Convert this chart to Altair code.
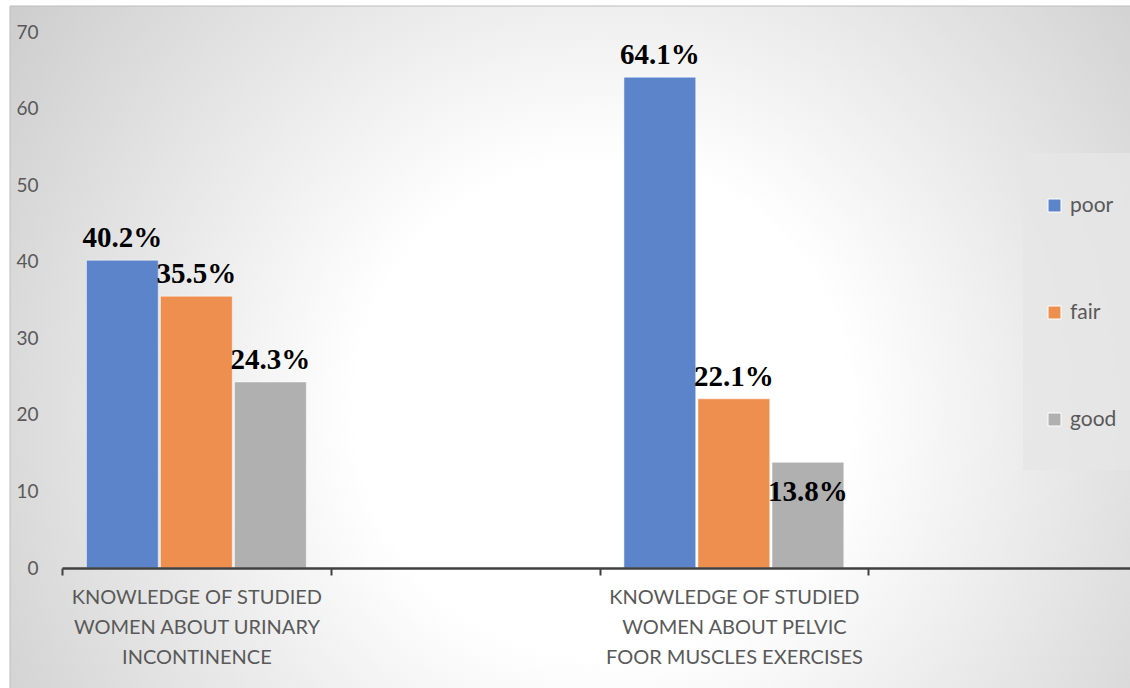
import altair as alt
import pandas as pd

# ---- data ----
categories = [
    "KNOWLEDGE OF STUDIED|WOMEN ABOUT URINARY|INCONTINENCE",
    " ",
    "KNOWLEDGE OF STUDIED|WOMEN ABOUT PELVIC|FOOR MUSCLES EXERCISES",
    "  ",
]
levels = ["poor", "fair", "good"]
urinary_values = [40.2, 35.5, 24.3]
pelvic_values = [64.1, 22.1, 13.8]
level_colors = ["#5B84CB", "#EE8F50", "#B0B0B0"]
y_tick_values = [0, 10, 20, 30, 40, 50, 60, 70]

rows = []
for lvl, v in zip(levels, urinary_values):
    rows.append({"cat": categories[0], "level": lvl, "value": v})
for lvl, v in zip(levels, pelvic_values):
    rows.append({"cat": categories[2], "level": lvl, "value": v})
df = pd.DataFrame(rows)
df["label"] = df["value"].map(lambda v: f"{v:.1f}%")

W, H = 1068, 536
X_RANGE = 1075
LABEL_FONT = "Lato"
GREY_TEXT = "#595959"

x_enc = alt.X(
    "cat:N",
    scale=alt.Scale(domain=categories, paddingInner=0, paddingOuter=0, range=[0, X_RANGE]),
    axis=alt.Axis(
        title=None,
        labelExpr="split(datum.label, '|')",
        labelAngle=0,
        labelLimit=0,
        labelFont=LABEL_FONT,
        labelFontSize=20,
        labelColor=GREY_TEXT,
        labelLineHeight=30,
        labelPadding=12,
        tickBand="extent",
        tickSize=7,
        tickWidth=2,
        tickColor="#404040",
        domainColor="#404040",
        domainWidth=2.5,
        grid=False,
        zindex=1,
    ),
)
xoff_enc = alt.XOffset(
    "level:N",
    scale=alt.Scale(domain=levels, paddingInner=0.03, paddingOuter=0.33),
)
y_enc = alt.Y(
    "value:Q",
    scale=alt.Scale(domain=[0, 70], nice=False, zero=True),
    axis=alt.Axis(
        title=None,
        values=y_tick_values,
        domain=False,
        ticks=False,
        grid=False,
        labelFont=LABEL_FONT,
        labelFontSize=19,
        labelColor=GREY_TEXT,
        labelPadding=24,
        zindex=1,
    ),
)
color_enc = alt.Color(
    "level:N",
    scale=alt.Scale(domain=levels, range=level_colors),
    legend=alt.Legend(
        title=None,
        orient="none",
        legendX=982,
        legendY=163,
        symbolType="square",
        symbolSize=169,
        symbolStrokeColor="#ffffff",
        symbolStrokeWidth=1,
        labelFont=LABEL_FONT,
        labelFontSize=21,
        labelColor=GREY_TEXT,
        labelOffset=5,
        rowPadding=85,
        padding=0,
    ),
)

one = pd.DataFrame({"k": [0]})

background = alt.Chart(one).mark_rect(
    fill=alt.RadialGradient(
        gradient="radial",
        stops=[
            alt.GradientStop(color="#ffffff", offset=0),
            alt.GradientStop(color="#ffffff", offset=0.3),
            alt.GradientStop(color="#c2c2c2", offset=1),
        ],
        x1=0.52, y1=0.55, r1=0,
        x2=0.52, y2=0.55, r2=0.72,
    ),
    stroke="#bdbdbd",
    strokeWidth=1,
).encode(
    x=alt.value(-52), x2=alt.value(W + 20),
    y=alt.value(-26), y2=alt.value(H + 130),
)

legend_box = alt.Chart(one).mark_rect(fill="#e6e6e6", opacity=0.8).encode(
    x=alt.value(961), x2=alt.value(W + 20),
    y=alt.value(121), y2=alt.value(438),
)

bars = alt.Chart(df).mark_bar(
    stroke="#ffffff", strokeOpacity=0.5, strokeWidth=1
).encode(x=x_enc, xOffset=xoff_enc, y=y_enc, color=color_enc)

text_common = dict(font="Liberation Serif", fontWeight="bold", fontSize=29,
                   color="#000000", baseline="alphabetic")

labels_above = alt.Chart(df).transform_filter("datum.value >= 15").mark_text(
    dy=-13, **text_common
).encode(x=x_enc, xOffset=xoff_enc, y=y_enc, text="label:N")

labels_inside = alt.Chart(df).transform_filter("datum.value < 15").mark_text(
    dy=39, **text_common
).encode(x=x_enc, xOffset=xoff_enc, y=y_enc, text="label:N")

chart = alt.layer(background, legend_box, bars, labels_above, labels_inside).properties(
    width=W,
    height=H,
    autosize=alt.AutoSizeParams(type="none"),
    padding={"left": 62, "top": 32, "right": 0, "bottom": 120},
    background="#ffffff",
).configure_view(stroke=None)

chart.save("out.html", embed_options={"renderer": "svg", "actions": False})
